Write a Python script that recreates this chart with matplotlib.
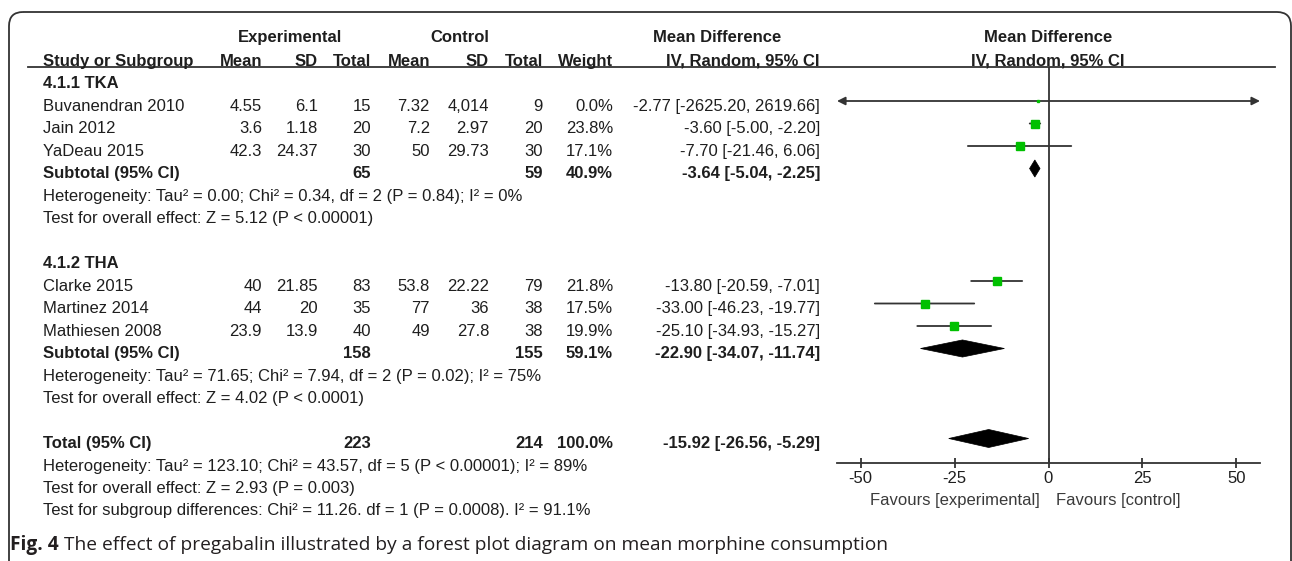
import matplotlib.pyplot as plt
from matplotlib.patches import FancyBboxPatch, Polygon

plt.rcParams['font.family'] = ['Liberation Sans', 'DejaVu Sans']

# per-study data (pregabalin vs control, morphine consumption)
studies = ['Buvanendran 2010', 'Jain 2012', 'YaDeau 2015',
           'Clarke 2015', 'Martinez 2014', 'Mathiesen 2008']
study_group = [0, 0, 0, 1, 1, 1]
exp_mean = [4.55, 3.6, 42.3, 40, 44, 23.9]
exp_sd = [6.1, 1.18, 24.37, 21.85, 20, 13.9]
exp_n = [15, 20, 30, 83, 35, 40]
ctl_mean = [7.32, 7.2, 50, 53.8, 77, 49]
ctl_sd = [4014, 2.97, 29.73, 22.22, 36, 27.8]
ctl_n = [9, 20, 30, 79, 38, 38]
weight = [0.0, 23.8, 17.1, 21.8, 17.5, 19.9]
md = [-2.77, -3.60, -7.70, -13.80, -33.00, -25.10]
md_lo = [-2625.20, -5.00, -21.46, -20.59, -46.23, -34.93]
md_hi = [2619.66, -2.20, 6.06, -7.01, -19.77, -15.27]

# subgroup summaries
subgroups = ['4.1.1 TKA', '4.1.2 THA']
sub_weight = [40.9, 59.1]
sub_md = [-3.64, -22.90]
sub_lo = [-5.04, -34.07]
sub_hi = [-2.25, -11.74]
sub_het = ['Heterogeneity: Tau² = 0.00; Chi² = 0.34, df = 2 (P = 0.84); I² = 0%',
           'Heterogeneity: Tau² = 71.65; Chi² = 7.94, df = 2 (P = 0.02); I² = 75%']
sub_test = ['Test for overall effect: Z = 5.12 (P < 0.00001)',
            'Test for overall effect: Z = 4.02 (P < 0.0001)']

# overall summary
total_weight = 100.0
total_md = -15.92
total_lo = -26.56
total_hi = -5.29
total_notes = ['Heterogeneity: Tau² = 123.10; Chi² = 43.57, df = 5 (P < 0.00001); I² = 89%',
               'Test for overall effect: Z = 2.93 (P = 0.003)',
               'Test for subgroup differences: Chi² = 11.26. df = 1 (P = 0.0008). I² = 91.1%']

x_ticks = [-50, -25, 0, 25, 50]
x_range = (-56.3, 56.3)

W, H = 1292, 561
ROW0, STEP = 61, 22.5          # text row layout in pixels
MARK_SHIFT = 5                 # plot marks sit a little above the text centre
TXT = '#1e1e1e'
LINE = '#333333'
GREEN = '#00c000'
FS = 12


def row_px(r):
    return ROW0 + STEP * r


def fmt(v):
    return f'{v:,.0f}' if v >= 1000 else f'{v:g}'


def ci_text(m, lo, hi):
    return f'{m:.2f} [{lo:.2f}, {hi:.2f}]'


fig = plt.figure(figsize=(W / 100, H / 100), dpi=100)
bg = fig.add_axes([0, 0, 1, 1])
bg.set_xlim(0, W)
bg.set_ylim(H, 0)
bg.axis('off')

# rounded frame, open at the bottom
bg.add_patch(FancyBboxPatch((9, 12), 1282, 620, boxstyle='round,pad=0,rounding_size=14',
                            fill=False, ec=LINE, lw=1.3))

# column right edges
cols = [262, 318, 371, 430, 489, 543, 613, 820]
x_name = 43

# headers
bg.text(290, 37, 'Experimental', ha='center', va='center', fontsize=FS, weight='bold', color=TXT)
bg.text(460, 37, 'Control', ha='center', va='center', fontsize=FS, weight='bold', color=TXT)
bg.text(717, 37, 'Mean Difference', ha='center', va='center', fontsize=FS, weight='bold', color=TXT)
bg.text(1048, 37, 'Mean Difference', ha='center', va='center', fontsize=FS, weight='bold', color=TXT)
bg.text(x_name, row_px(0), 'Study or Subgroup', ha='left', va='center', fontsize=FS, weight='bold', color=TXT)
for x, lab in zip(cols, ['Mean', 'SD', 'Total', 'Mean', 'SD', 'Total', 'Weight', 'IV, Random, 95% CI']):
    bg.text(x, row_px(0), lab, ha='right', va='center', fontsize=FS, weight='bold', color=TXT)
bg.text(1048, row_px(0), 'IV, Random, 95% CI', ha='center', va='center', fontsize=FS, weight='bold', color=TXT)
bg.plot([28, 1275], [67, 67], color=LINE, lw=1.3)

# forest panel
fx0, fx1, fy0, fy1 = 837, 1260, 67, 463
ax = fig.add_axes([fx0 / W, 1 - fy1 / H, (fx1 - fx0) / W, (fy1 - fy0) / H])
ax.set_xlim(x_range)
ax.set_ylim((fy1 - ROW0 + MARK_SHIFT) / STEP, (fy0 - ROW0 + MARK_SHIFT) / STEP)
ax.patch.set_alpha(0)
for s in ['top', 'right', 'left']:
    ax.spines[s].set_visible(False)
ax.spines['bottom'].set_color(LINE)
ax.spines['bottom'].set_linewidth(1.3)
ax.set_yticks([])
ax.set_xticks(x_ticks)
ax.set_xticklabels([str(t) for t in x_ticks])
ax.tick_params(axis='x', direction='inout', length=7, width=1.3, color=LINE,
               labelsize=FS, labelcolor=TXT, pad=2)
ax.axvline(0, color=LINE, lw=1.3)

row = 1
for g, name in enumerate(subgroups):
    bg.text(x_name, row_px(row), name, ha='left', va='center', fontsize=FS, weight='bold', color=TXT)
    row += 1
    idx = [i for i, sg in enumerate(study_group) if sg == g]
    for i in idx:
        y = row_px(row)
        vals = [fmt(exp_mean[i]), fmt(exp_sd[i]), str(exp_n[i]),
                fmt(ctl_mean[i]), fmt(ctl_sd[i]), str(ctl_n[i]),
                f'{weight[i]:.1f}%', ci_text(md[i], md_lo[i], md_hi[i])]
        bg.text(x_name, y, studies[i], ha='left', va='center', fontsize=FS, color=TXT)
        for x, v in zip(cols, vals):
            bg.text(x, y, v, ha='right', va='center', fontsize=FS, color=TXT)
        # confidence interval, with arrows where it runs off the scale
        lo = max(md_lo[i], x_range[0])
        hi = min(md_hi[i], x_range[1])
        style = ('<|' if md_lo[i] < x_range[0] else '') + '-' + ('|>' if md_hi[i] > x_range[1] else '')
        ax.annotate('', xy=(hi, row), xytext=(lo, row),
                    arrowprops=dict(arrowstyle=style, color=LINE, lw=1.3,
                                    shrinkA=0, shrinkB=0, mutation_scale=12))
        ax.plot(md[i], row, 's', color=GREEN, mec=GREEN,
                ms=max(1.3 * weight[i] ** 0.5, 1.5), zorder=3)
        row += 1
    # subtotal
    y = row_px(row)
    bg.text(x_name, y, 'Subtotal (95% CI)', ha='left', va='center', fontsize=FS, weight='bold', color=TXT)
    sub_vals = [str(sum(exp_n[i] for i in idx)), str(sum(ctl_n[i] for i in idx)),
                f'{sub_weight[g]:.1f}%', ci_text(sub_md[g], sub_lo[g], sub_hi[g])]
    for x, v in zip([cols[2], cols[5], cols[6], cols[7]], sub_vals):
        bg.text(x, y, v, ha='right', va='center', fontsize=FS, weight='bold', color=TXT)
    ax.add_patch(Polygon([(sub_lo[g], row), (sub_md[g], row - 0.38),
                          (sub_hi[g], row), (sub_md[g], row + 0.38)],
                         closed=True, fc='black', ec='black', lw=0.5, zorder=3))
    row += 1
    bg.text(x_name, row_px(row), sub_het[g], ha='left', va='center', fontsize=FS, color=TXT)
    row += 1
    bg.text(x_name, row_px(row), sub_test[g], ha='left', va='center', fontsize=FS, color=TXT)
    row += 2

# overall
y = row_px(row)
bg.text(x_name, y, 'Total (95% CI)', ha='left', va='center', fontsize=FS, weight='bold', color=TXT)
tot_vals = [str(sum(exp_n)), str(sum(ctl_n)), f'{total_weight:.1f}%',
            ci_text(total_md, total_lo, total_hi)]
for x, v in zip([cols[2], cols[5], cols[6], cols[7]], tot_vals):
    bg.text(x, y, v, ha='right', va='center', fontsize=FS, weight='bold', color=TXT)
ax.add_patch(Polygon([(total_lo, row), (total_md, row - 0.4),
                      (total_hi, row), (total_md, row + 0.4)],
                     closed=True, fc='black', ec='black', lw=0.5, zorder=3, clip_on=False))
row += 1
for note in total_notes:
    bg.text(x_name, row_px(row), note, ha='left', va='center', fontsize=FS, color=TXT)
    row += 1

# favours labels under the axis
bg.text(1040, 500, 'Favours [experimental]', ha='right', va='center', fontsize=FS, color='#3a3a3a')
bg.text(1056, 500, 'Favours [control]', ha='left', va='center', fontsize=FS, color='#3a3a3a')

# caption
cap_y = 545
t1 = bg.text(10, cap_y, 'Fig. 4', ha='left', va='center', fontsize=13.8,
             family='Open Sans', weight='bold', color='#231f20')
fig.canvas.draw()
bb = t1.get_window_extent()
bg.text(bb.x1 + 5, cap_y, 'The effect of pregabalin illustrated by a forest plot diagram on mean morphine consumption',
        ha='left', va='center', fontsize=13.8, family='Open Sans', color='#231f20')

fig.savefig('out.png', dpi=100)
